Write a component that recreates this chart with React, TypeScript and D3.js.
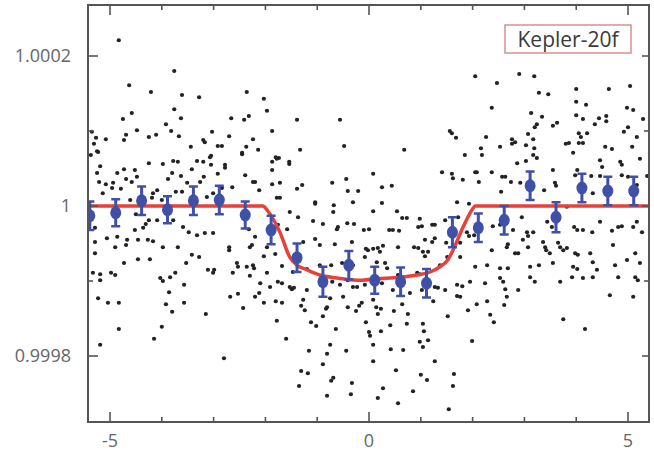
import React from "react";
import * as d3 from "d3";

// time from mid-transit (hours) and flux deviation (ppm)
const scatter: [number, number][] = [
  // upper left
  [-4.83, 221], [-3.76, 180], [-4.63, 161], [-4.21, 152], [-3.61, 148], [-3.28, 145], [-3.76, 129],
  [-4.58, 124], [-4.75, 116], [-3.63, 117], [-4.48, 101], [-3.92, 109], [-3.82, 100], [-3.03, 99],
  [-5.27, 91], [-5.08, 89], [-4.69, 95], [-4.73, 88], [-4.25, 92], [-4.11, 95], [-3.67, 93],
  [-3.2, 88], [-3.17, 85], [-3.44, 79], [-2.92, 80], [-5.31, 83], [-5.25, 73], [-5.37, 68],
  [-3.05, 67], [-5.35, 99],
  // upper middle
  [-2.36, 152], [-2.03, 143], [-1.97, 127], [-2.66, 117], [-2.41, 115], [-2.32, 120], [-1.39, 115],
  [-0.56, 115], [-1.87, 100], [-2.7, 93], [-2.24, 89], [-2.84, 80], [-2.37, 79], [-2.14, 75],
  [-1.33, 75], [-0.48, 80], [0.68, 75], [-2.45, 71], [-1.78, 63],
  // upper right
  [2.05, 173], [2.47, 164], [2.9, 176], [3.19, 173], [3.28, 151], [3.46, 149], [4.0, 156],
  [4.63, 156], [5.04, 160], [2.37, 131], [4.0, 139], [4.19, 135], [4.98, 131], [5.1, 128],
  [3.13, 124], [3.34, 119], [4.0, 121], [4.13, 116], [4.44, 117], [4.58, 120], [4.58, 113],
  [5.29, 116], [3.24, 109], [3.2, 105], [3.55, 107], [3.63, 111], [4.36, 109], [5.0, 105],
  [1.56, 100], [1.6, 97], [1.68, 91], [2.26, 92], [2.76, 89], [2.82, 85], [2.76, 83],
  [2.53, 79], [2.16, 77], [3.07, 96], [3.03, 81], [3.17, 89], [3.19, 77], [3.8, 83],
  [3.86, 84], [4.05, 97], [4.21, 97], [4.09, 92], [4.05, 84], [4.13, 84], [4.56, 79],
  [4.69, 76], [4.92, 99], [5.17, 92], [5.08, 79], [1.85, 68], [2.18, 68], [3.17, 68],
  [3.24, 64], [3.94, 71], [5.23, 63],
  // middle left
  [-5.23, 72], [-5.19, 53], [-5.25, 44], [-5.21, 32], [-5.08, 29], [-4.94, 31], [-4.86, 44],
  [-4.73, 49], [-4.52, 48], [-4.25, 57], [-3.98, 56], [-3.78, 60], [-3.69, 59], [-3.32, 60],
  [-3.2, 59], [-3.07, 65], [-3.05, 55], [-3.42, 49], [-3.8, 44], [-3.63, 40], [-4.69, 36],
  [-4.58, 32], [-4.48, 39], [-3.88, 36], [-3.51, 31], [-3.26, 32], [-3.19, 39], [-2.92, 43],
  [-5.14, 17], [-4.79, 23], [-4.96, 24], [-4.09, 21], [-4.17, 17], [-3.73, 19], [-3.61, 19],
  [-4.61, 8], [-4.19, 11], [-4.0, 8], [-3.13, 12], [-3.01, 17], [-4.5, -11], [-4.25, -19],
  [-4.09, -19], [-3.78, -19], [-5.29, -29], [-4.52, -32], [-4.36, -29], [-4.31, -24], [-3.59, -28],
  [-3.48, -35], [-3.32, -39], [-3.17, -36], [-3.01, -36], [-5.29, -48], [-5.06, -43], [-4.86, -41],
  [-4.9, -55], [-4.67, -45], [-4.69, -52], [-4.46, -45], [-4.27, -45], [-4.17, -47], [-3.98, -55],
  [-3.69, -55], [-5.29, -63], [-3.42, -65], [-3.28, -68], [-4.46, -71], [-4.23, -71], [-4.73, -76],
  [-3.53, -76], [-5.19, -91], [-5.33, -89], [-4.98, -89], [-4.9, -92], [-4.03, -96], [-3.84, -95],
  [-3.74, -89], [-3.11, -85], [-3.01, -89], [-5.19, -99], [-3.98, -100], [-3.57, -105], [-3.86, -115],
  [-5.23, -123], [-5.04, -129], [-4.83, -129], [-3.92, -131], [-3.57, -129],
  // lower left
  [-5.19, -185], [-4.83, -164], [-4.15, -177], [-4.0, -161], [-3.8, -141], [-3.15, -144],
  // lower middle
  [-2.8, -203], [-2.43, -136], [-2.03, -129], [-1.78, -153], [-1.8, -127], [-1.68, -129], [-1.6, -177],
  [-1.31, -133], [-1.24, -139], [-1.12, -155], [-1.02, -160], [-1.16, -193], [-1.31, -220], [-1.18, -223],
  [-1.35, -240], [-0.89, -147], [-0.83, -137], [-0.81, -135], [-0.75, -185], [-0.81, -197], [-0.89, -211],
  [-0.69, -229], [-0.73, -233], [-0.81, -253], [-0.64, -164], [-0.44, -193], [-0.33, -236], [-0.35, -251],
  [-0.41, -135], [-0.25, -140], [-0.19, -133], [-0.14, -129], [-0.06, -155], [0.0, -168], [0.02, -173],
  [0.08, -185], [0.08, -207], [0.14, -135], [0.23, -137], [0.17, -144], [0.23, -167], [0.27, -243],
  [0.17, -256], [0.41, -159], [0.48, -140], [0.42, -191], [0.52, -219], [0.56, -263], [0.64, -131],
  [0.75, -144], [0.73, -157], [0.66, -192], [0.85, -247], [0.98, -181], [1.0, -225], [1.12, -232],
  [1.04, -157], [1.06, -167], [1.14, -179], [1.04, -188],
  // lower right
  [1.24, -127], [1.52, -147], [1.27, -207], [1.64, -224], [1.62, -240], [1.54, -271], [1.91, -139],
  [2.08, -131], [2.28, -127], [2.34, -145], [2.41, -155], [1.99, -180], [2.61, -132], [3.75, -151],
  [4.17, -164],
  // middle centre
  [-2.78, 55], [-2.78, 51], [-2.45, 69], [-1.8, 65], [-1.74, 64], [-1.87, 59], [-1.54, 59],
  [-1.54, 56], [-1.87, 48], [-2.39, 41], [-2.24, 32], [-2.2, 32], [-1.87, 29], [-1.72, 31],
  [-1.39, 23], [-1.29, 28], [-0.71, 31], [-0.44, 36], [0.08, 43], [-0.41, 20], [-0.21, 20],
  [0.25, 25], [0.44, 27], [-2.64, 25], [-2.84, 24], [-2.12, 21], [-1.78, 11], [-1.72, 11],
  [-1.04, 5], [-1.04, 3], [-0.68, 1], [-0.31, 5], [-0.69, -8], [0.08, -7], [0.25, 4],
  [0.54, -7], [0.64, -16], [0.73, -16], [0.98, -17], [-1.53, -8], [-1.37, -15], [-1.08, -20],
  [-0.89, -24], [-0.62, -31], [-0.6, -28], [-0.42, -23], [-0.29, -24], [-0.1, -32], [0.0, -31],
  [0.39, -32], [0.46, -32], [0.58, -33], [0.95, -28], [1.02, -27], [-2.32, -31], [-1.76, -25],
  [-1.58, -31], [-1.97, -55], [-2.2, -41], [-2.7, -55], [-2.7, -59], [-2.3, -55], [-2.26, -52],
  [-1.27, -48], [-1.04, -44], [-0.95, -52], [-0.66, -51], [-0.33, -48], [-0.06, -57], [-0.02, -59],
  [0.08, -57], [0.17, -56], [0.21, -61], [0.27, -53], [0.56, -55], [0.87, -55], [0.95, -56],
  [1.04, -61], [1.08, -67], [-2.03, -67], [-1.81, -64], [-2.55, -76], [-2.53, -81], [-2.36, -81],
  [-2.24, -79], [-2.22, -83], [-2.99, -85], [-2.63, -89], [-2.3, -93], [-1.68, -80], [-1.97, -89],
  [-1.47, -88], [-1.2, -84], [-0.95, -79], [-0.73, -79], [-0.52, -76], [-0.31, -79], [-0.08, -68],
  [0.15, -75], [0.31, -76], [0.35, -83], [0.56, -92], [0.66, -95], [0.93, -89], [0.98, -91],
  [-2.1, -103], [-1.91, -108], [-1.76, -101], [-1.68, -103], [-1.53, -108], [-1.49, -111], [-1.45, -109],
  [-1.2, -112], [-0.71, -101], [-0.56, -105], [-0.41, -99], [-0.31, -108], [-0.23, -108], [-0.08, -105],
  [0.25, -103], [0.46, -112], [0.79, -116], [1.02, -112], [-2.68, -121], [-2.53, -117], [-2.2, -121],
  [-2.12, -116], [-1.27, -125], [-0.75, -123], [-0.5, -121], [0.08, -125],
  // middle right
  [2.86, 57], [3.03, 60], [4.46, 61], [4.5, 52], [4.85, 59], [4.88, 55], [1.41, 45],
  [1.6, 43], [1.62, 37], [1.81, 35], [2.05, 45], [2.08, 45], [2.12, 32], [2.37, 45],
  [2.57, 39], [2.63, 39], [2.55, 19], [2.74, 32], [2.92, 31], [3.38, 21], [3.55, 48],
  [3.59, 31], [3.61, 27], [3.98, 41], [4.02, 48], [4.29, 40], [4.32, 17], [4.46, 40],
  [4.88, 41], [5.0, 39], [5.37, 40], [5.17, 28], [1.7, 5], [1.93, 3], [1.47, -19],
  [1.22, -25], [1.27, -25], [1.72, -15], [1.89, -35], [1.93, -40], [2.03, -39], [2.39, -27],
  [2.53, -25], [2.78, -32], [2.95, -15], [3.05, -35], [3.07, -40], [3.17, -35], [3.44, -21],
  [3.53, -28], [3.82, -1], [3.96, -28], [4.02, -32], [4.13, -32], [4.31, -35], [4.46, -21],
  [4.69, -33], [4.81, -28], [4.88, -27], [5.1, -28], [5.17, -21], [5.27, -35], [1.08, -45],
  [1.22, -48], [1.27, -43], [1.49, -49], [1.76, -49], [2.37, -59], [2.66, -55], [2.68, -51],
  [2.82, -63], [2.88, -63], [2.97, -45], [3.07, -55], [3.36, -48], [3.4, -55], [3.42, -59],
  [3.49, -63], [3.65, -49], [3.69, -55], [3.75, -59], [3.82, -56], [3.98, -63], [4.03, -65],
  [4.27, -63], [4.32, -75], [4.71, -52], [4.98, -72], [5.14, -63], [1.14, -61], [1.37, -79],
  [1.51, -68], [1.76, -68], [2.05, -81], [2.28, -79], [2.53, -83], [2.68, -83], [3.11, -81],
  [3.28, -79], [3.55, -76], [3.94, -81], [4.02, -84], [4.32, -95], [4.4, -85], [4.75, -79],
  [4.81, -95], [5.14, -95], [5.19, -99], [5.23, -76], [1.27, -108], [1.33, -109], [1.47, -112],
  [1.7, -105], [1.8, -107], [1.95, -101], [2.24, -103], [2.53, -96], [2.59, -101], [2.63, -111],
  [2.66, -121], [2.88, -112], [3.11, -95], [3.2, -101], [3.69, -101], [3.92, -95], [4.13, -96],
  [4.65, -119], [5.1, -121], [1.7, -120], [1.76, -121],
];

// binned data (0.5 h bins)
const binTime = [-5.39, -4.89, -4.39, -3.89, -3.39, -2.89, -2.39, -1.89, -1.39, -0.89, -0.39,
  0.11, 0.61, 1.11, 1.61, 2.11, 2.61, 3.11, 3.61, 4.11, 4.61, 5.11];
const binFlux = [-13, -9, 7, -5, 7, 8, -12, -32, -69, -101, -79,
  -99, -101, -103, -35, -29, -19, 27, -15, 24, 20, 20];
const binErr = [19, 18, 19, 18, 19, 19, 18, 19, 19, 20, 19,
  18, 19, 19, 20, 19, 19, 19, 20, 19, 19, 19];

// transit model curve
const modelTime = [-5.42, -2.05, -1.95, -1.72, -1.53, -1.39, -1.2, -0.95, -0.62, -0.23, 0.15,
  0.6, 0.93, 1.18, 1.37, 1.52, 1.62, 1.81, 1.99, 2.05, 5.42];
const modelFlux = [0, 0, -7, -35, -68, -79, -85, -92, -96, -99, -97,
  -95, -92, -88, -81, -72, -59, -29, -5, 0, 0];

const xTicks = [-5, -4, -3, -2, -1, 0, 1, 2, 3, 4, 5];
const xLabels = [-5, 0, 5];
const yTicks = [0.9998, 0.9999, 1, 1.0001, 1.0002];
const yLabels = [0.9998, 1, 1.0002];
const title = "Kepler-20f";

const W = 654;
const H = 452;
const box = { left: 88, right: 649, top: 5, bottom: 422 };

const toFlux = (ppm: number) => 1 + ppm / 1e6;

export default function App() {
  const x = d3.scaleLinear().domain([-5.425, 5.405]).range([box.left, box.right]);
  const y = d3.scaleLinear().domain([0.999712, 1.000268]).range([box.bottom, box.top]);

  const line = d3
    .line<number>()
    .x((_, i) => x(modelTime[i]))
    .y((d) => y(toFlux(d)))
    .curve(d3.curveMonotoneX);

  const blue = "#3f51a6";
  const axisColor = "#555";
  const labelColor = "#666";
  const font = "'Open Sans', 'Liberation Sans', sans-serif";

  return (
    <div style={{ position: "fixed", left: 0, top: 0 }}>
      <svg width={W} height={H} style={{ display: "block", background: "#fff" }}>
        <defs>
          <clipPath id="plot">
            <rect x={box.left} y={box.top} width={box.right - box.left} height={box.bottom - box.top} />
          </clipPath>
        </defs>

        <g clipPath="url(#plot)">
          {scatter.map(([t, f], i) => (
            <circle key={i} cx={x(t)} cy={y(toFlux(f))} r={2.1} fill="#222" />
          ))}
          <path d={line(modelFlux) || ""} fill="none" stroke="#e8403a" strokeWidth={3.5} />
          {binTime.map((t, i) => {
            const cx = x(t);
            const y0 = y(toFlux(binFlux[i] - binErr[i]));
            const y1 = y(toFlux(binFlux[i] + binErr[i]));
            return (
              <g key={i} stroke={blue} fill={blue}>
                <line x1={cx} x2={cx} y1={y0} y2={y1} strokeWidth={3} />
                <line x1={cx - 4.5} x2={cx + 4.5} y1={y0} y2={y0} strokeWidth={2.5} />
                <line x1={cx - 4.5} x2={cx + 4.5} y1={y1} y2={y1} strokeWidth={2.5} />
                <ellipse cx={cx} cy={y(toFlux(binFlux[i]))} rx={5.5} ry={6.5} stroke="none" />
              </g>
            );
          })}
        </g>

        {/* frame */}
        <rect
          x={box.left}
          y={box.top}
          width={box.right - box.left}
          height={box.bottom - box.top}
          fill="none"
          stroke={axisColor}
          strokeWidth={2}
        />

        {/* x ticks, inward on bottom and top */}
        {xTicks.map((t) => {
          const len = t % 5 === 0 ? 10 : 5;
          return (
            <g key={t} stroke={axisColor} strokeWidth={1.6}>
              <line x1={x(t)} x2={x(t)} y1={box.bottom} y2={box.bottom - len} />
              <line x1={x(t)} x2={x(t)} y1={box.top} y2={box.top + len} />
            </g>
          );
        })}
        {/* y ticks, inward on left and right */}
        {yTicks.map((t) => {
          const major = yLabels.includes(t);
          const len = major ? 10 : 5;
          return (
            <g key={t} stroke={axisColor} strokeWidth={1.6}>
              <line x1={box.left} x2={box.left + len} y1={y(t)} y2={y(t)} />
              <line x1={box.right} x2={box.right - (major ? 7 : 5)} y1={y(t)} y2={y(t)} />
            </g>
          );
        })}

        {xLabels.map((t) => (
          <text key={t} x={x(t)} y={447} textAnchor="middle" fontFamily={font} fontSize={18} fill={labelColor}>
            {t < 0 ? "-" + Math.abs(t) : t}
          </text>
        ))}
        {yLabels.map((t) => (
          <text
            key={t}
            x={71}
            y={y(t)}
            dy="0.35em"
            textAnchor="end"
            fontFamily={font}
            fontSize={18}
            fill={labelColor}
          >
            {t === 1 ? "1" : d3.format(".4f")(t)}
          </text>
        ))}

        {/* legend */}
        <rect x={505} y={25} width={126} height={28} fill="#fff" stroke="#d9908f" strokeWidth={1.5} />
        <text x={568} y={46.5} textAnchor="middle" fontFamily={font} fontSize={21} fill="#3a3a3a">
          {title}
        </text>
      </svg>
    </div>
  );
}
